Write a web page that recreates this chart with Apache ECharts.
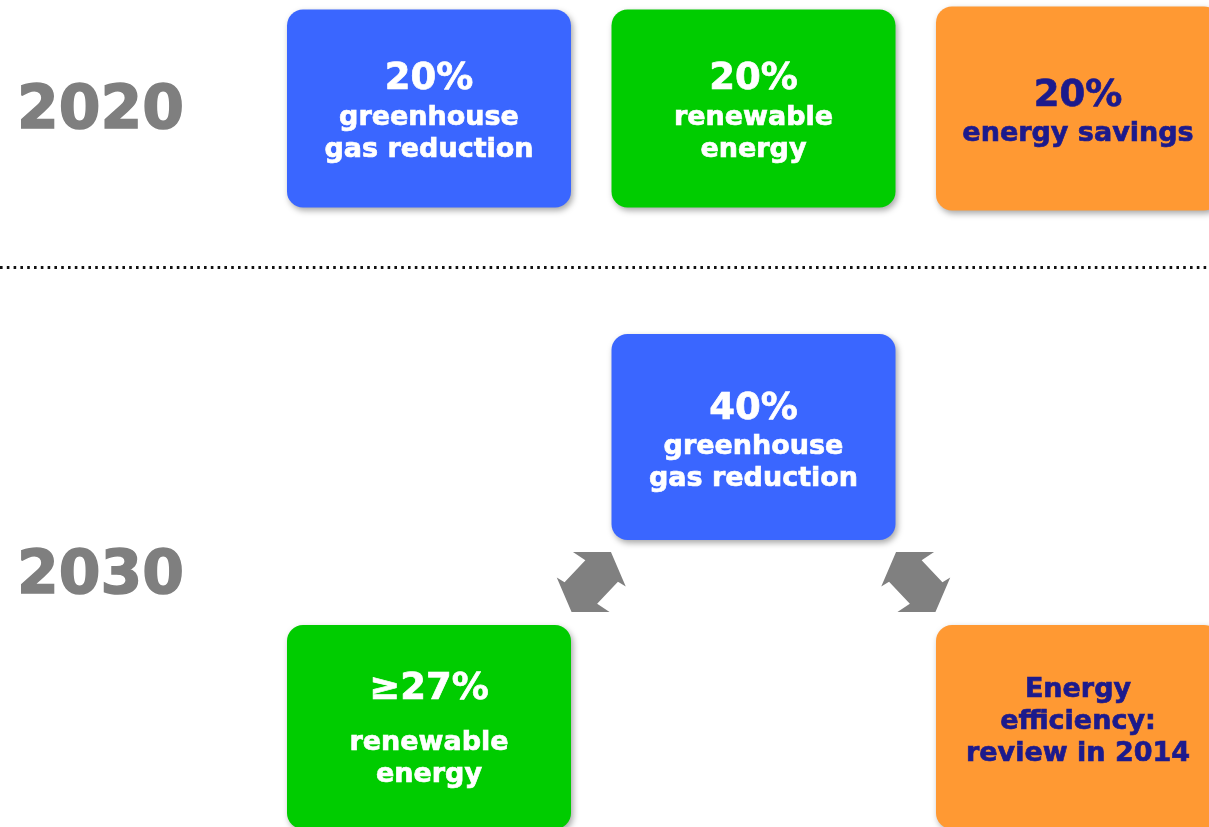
<!DOCTYPE html>
<html>
<head>
<meta charset="utf-8">
<title>EU climate and energy targets</title>
<script src="https://cdn.jsdelivr.net/npm/echarts@6/dist/echarts.min.js"></script>
<style>
  html, body { margin: 0; padding: 0; background: #fff; }
  #main { width: 1209px; height: 827px; }
</style>
</head>
<body>
<div id="main"></div>
<script>
// rows and columns of the sheet
var years = ['2020', '2030'];
var columns = ['left', 'middle', 'right'];

// one entry per box
var boxYear = ['2020', '2020', '2020', '2030', '2030', '2030'];
var boxColumn = ['left', 'middle', 'right', 'middle', 'left', 'right'];
var boxRow = ['single', 'single', 'single', 'upper', 'lower', 'lower'];
var boxKind = ['ghg', 'renewable', 'efficiency', 'ghg', 'renewable', 'efficiency'];
var boxPercent = ['20%', '20%', '20%', '40%', '≥27%', ''];
var boxText = [
  ['greenhouse', 'gas reduction'],
  ['renewable', 'energy'],
  ['energy savings'],
  ['greenhouse', 'gas reduction'],
  ['renewable', 'energy'],
  ['Energy', 'efficiency:', 'review in 2014']
];

// arrows between the 2030 boxes (box indexes)
var links = [[3, 4], [3, 5]];

// --- layout / style, not data ---
var FONT = '"DejaVu Sans", Verdana, sans-serif';
var kindStyle = {
  ghg:        { fill: '#3a66ff', text: '#ffffff' },
  renewable:  { fill: '#00cc00', text: '#ffffff' },
  efficiency: { fill: '#ff9933', text: '#1c1a8c' }
};
var rowLayout = {
  single: { dy: -3.5, h: 198 },
  upper:  { dy: -140, h: 206 },
  lower:  { dy: 150,  h: 204 }
};
var BOX_W = 284;
var pctGap = [38, 38, 38, 38, 54, 38];   // percent line -> first text line
var textDy = [6, 6, 6.5, 7, 5, -5];
var LINE = 32;

var myChart = echarts.init(document.getElementById('main'));

function boxCenter(api, k) {
  var p = api.coord([columns.indexOf(boxColumn[k]), years.indexOf(boxYear[k])]);
  return [p[0], p[1] + rowLayout[boxRow[k]].dy];
}

function textEl(x, y, txt, color, size) {
  return {
    type: 'text',
    x: x, y: y,
    style: {
      text: txt, fill: color,
      stroke: color, lineWidth: 0.7,
      font: 'bold ' + size + 'px ' + FONT,
      align: 'center', verticalAlign: 'middle'
    }
  };
}

function renderBox(params, api) {
  var k = params.dataIndex;
  var c = boxCenter(api, k);
  var lay = rowLayout[boxRow[k]];
  var h = lay.h + (boxKind[k] == 'efficiency' && boxRow[k] == 'single' ? 6 : 0);
  var st = kindStyle[boxKind[k]];
  var children = [{
    type: 'rect',
    shape: { x: c[0] - BOX_W / 2, y: c[1] - h / 2, width: BOX_W, height: h, r: 16 },
    style: {
      fill: st.fill,
      shadowBlur: 6,
      shadowOffsetX: 2,
      shadowOffsetY: 3,
      shadowColor: 'rgba(0,0,0,0.35)'
    }
  }];
  var lines = boxText[k];
  var span = LINE * (lines.length - 1) + (boxPercent[k] ? pctGap[k] : 0);
  var y = c[1] + textDy[k] - span / 2;
  if (boxPercent[k]) {
    children.push(textEl(c[0], y, boxPercent[k], st.text, 37));
    y += pctGap[k];
  }
  for (var i = 0; i < lines.length; i++) {
    children.push(textEl(c[0], y + i * LINE, lines[i], st.text, 27));
  }
  return { type: 'group', children: children };
}

// double arrow (tips up-right / down-left) in px, centred on 0,0
// tip, barb, notch, notch, barb, tip, barb, notch, notch, barb
var arrowShape = [
  [19.7, -29.9], [34.5, 4.6], [26.7, -0.3], [5.9, 21.7], [18.3, 29.9],
  [-19.7, 29.9], [-34.5, -4.6], [-26.7, 0.3], [-5.9, -21.7], [-18.3, -29.9]
];

function renderArrow(params, api) {
  var l = links[params.dataIndex];
  var a = boxCenter(api, l[0]);
  var b = boxCenter(api, l[1]);
  var mx = (a[0] + b[0]) / 2, my = (a[1] + b[1]) / 2;
  var flip = (b[0] - a[0]) > 0 ? -1 : 1;
  var pts = arrowShape.map(function (p) { return [mx + flip * p[0], my + p[1]]; });
  return {
    type: 'polygon',
    shape: { points: pts },
    style: { fill: '#808080' }
  };
}

function renderSeparator(params, api) {
  var p = api.coord([0, years.indexOf('2020')]);
  var y = p[1] + 155.5;
  return {
    type: 'line',
    shape: { x1: 0, y1: y, x2: api.getWidth(), y2: y },
    style: { stroke: '#111111', lineWidth: 3, lineDash: [2.6, 4.2] }
  };
}

var option = {
  backgroundColor: '#ffffff',
  animation: false,
  grid: {
    left: 429,
    right: 131,
    top: 112,
    bottom: 250,
    outerBoundsMode: 'none'
  },
  xAxis: {
    type: 'category',
    data: columns,
    boundaryGap: false,
    axisLine: { show: false },
    axisTick: { show: false },
    axisLabel: { show: false },
    splitLine: { show: false }
  },
  yAxis: {
    type: 'category',
    data: years,
    inverse: true,
    boundaryGap: false,
    axisLine: { show: false },
    axisTick: { show: false },
    splitLine: { show: false },
    axisLabel: {
      color: '#7f7f7f',
      fontSize: 60,
      fontWeight: 'bold',
      fontFamily: FONT,
      textBorderColor: '#7f7f7f',
      textBorderWidth: 1.5,
      margin: 245
    }
  },
  series: [
    {
      type: 'custom',
      name: 'separator',
      clip: false,
      silent: true,
      renderItem: renderSeparator,
      data: [[0, 0]]
    },
    {
      type: 'custom',
      name: 'targets',
      clip: false,
      renderItem: renderBox,
      data: boxYear.map(function (y, i) { return [boxColumn[i], y]; })
    },
    {
      type: 'custom',
      name: 'links',
      clip: false,
      silent: true,
      renderItem: renderArrow,
      data: links.map(function (l) { return [boxColumn[l[0]], boxYear[l[0]]]; })
    }
  ]
};

myChart.setOption(option);
</script>
</body>
</html>
